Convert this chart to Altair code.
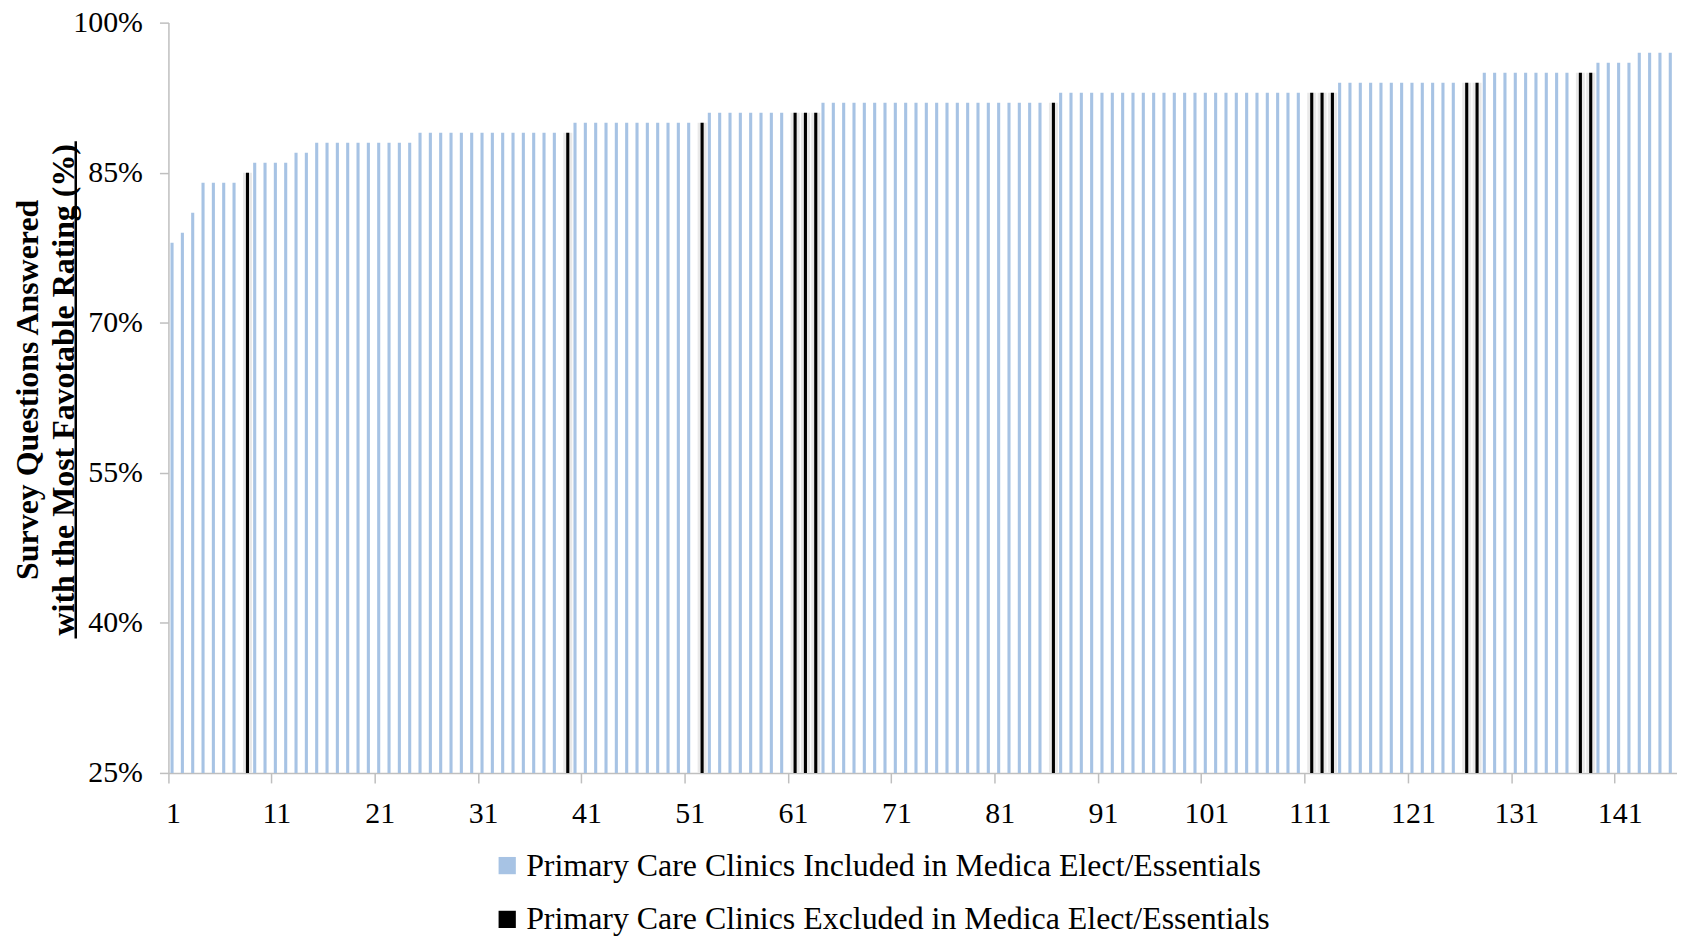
import altair as alt
import pandas as pd

# Clinic rank (1..146) and share of survey questions answered with most favorable rating (%)
rating_pct = [
    78, 79, 81, 84, 84, 84, 84, 85, 86, 86,
    86, 86, 87, 87, 88, 88, 88, 88, 88, 88,
    88, 88, 88, 88, 89, 89, 89, 89, 89, 89,
    89, 89, 89, 89, 89, 89, 89, 89, 89, 90,
    90, 90, 90, 90, 90, 90, 90, 90, 90, 90,
    90, 90, 91, 91, 91, 91, 91, 91, 91, 91,
    91, 91, 91, 92, 92, 92, 92, 92, 92, 92,
    92, 92, 92, 92, 92, 92, 92, 92, 92, 92,
    92, 92, 92, 92, 92, 92, 93, 93, 93, 93,
    93, 93, 93, 93, 93, 93, 93, 93, 93, 93,
    93, 93, 93, 93, 93, 93, 93, 93, 93, 93,
    93, 93, 93, 94, 94, 94, 94, 94, 94, 94,
    94, 94, 94, 94, 94, 94, 94, 95, 95, 95,
    95, 95, 95, 95, 95, 95, 95, 95, 96, 96,
    96, 96, 97, 97, 97, 97,
]
excluded_clinics = [8, 39, 52, 61, 62, 63, 86, 111, 112, 113, 126, 127, 137, 138]
x_tick_values = [1, 11, 21, 31, 41, 51, 61, 71, 81, 91, 101, 111, 121, 131, 141]
y_tick_values = [25, 40, 55, 70, 85, 100]

label_in = "Primary Care Clinics Included in Medica Elect/Essentials"
label_out = "Primary Care Clinics Excluded in Medica Elect/Essentials"
groups = [label_in, label_out]

clinic = list(range(1, len(rating_pct) + 1))
df = pd.DataFrame({
    "clinic": clinic,
    "rating": rating_pct,
    "group": [label_out if c in excluded_clinics else label_in for c in clinic],
})

FONT = "Liberation Serif"
AXIS_GREY = "#BFBFBF"

x_enc = alt.X(
    "clinic:O",
    scale=alt.Scale(paddingInner=0, paddingOuter=0),
    axis=alt.Axis(
        values=x_tick_values, labelAngle=0, title=None,
        labelFont=FONT, labelFontSize=30, labelColor="black",
        domainColor=AXIS_GREY, domainWidth=1.5,
        tickColor=AXIS_GREY, tickWidth=1.5, tickSize=10,
        bandPosition=0, labelPadding=16,
        grid=False,
    ),
)
xoff_enc = alt.XOffset(
    "group:N",
    scale=alt.Scale(domain=groups, paddingInner=0, paddingOuter=0.67),
)
y_enc = alt.Y(
    "rating:Q",
    scale=alt.Scale(domain=[25, 100], nice=False, zero=False),
    axis=alt.Axis(
        values=y_tick_values, labelExpr="datum.value + '%'",
        labelFont=FONT, labelFontSize=30, labelColor="black",
        labelPadding=17,
        domainColor=AXIS_GREY, domainWidth=1.5,
        tickColor=AXIS_GREY, tickWidth=1.5, tickSize=9,
        grid=False,
        title=["Survey Questions Answered", "with the Most Favotable Rating (%)"],
        titleFont=FONT, titleFontSize=32, titleFontWeight="bold",
        titleColor="black", titleLineHeight=36,
        titleAngle=-90, titleAlign="center", titleBaseline="bottom",
        titleX=-124, titleY=368,
    ),
)

shadow = alt.Chart(df).transform_filter(
    alt.datum.group == label_out
).mark_bar(clip=True, color="#E9E9E9", width=9, xOffset=1.5).encode(
    x=x_enc, xOffset=xoff_enc, y=y_enc
)

bars = alt.Chart(df).mark_bar(clip=True).encode(
    x=x_enc,
    xOffset=xoff_enc,
    y=y_enc,
    color=alt.Color(
        "group:N",
        scale=alt.Scale(domain=groups, range=["#A7C3E4", "#000000"]),
        legend=alt.Legend(
            title=None, orient="none", legendX=324, legendY=830,
            direction="vertical", symbolType="square", symbolSize=300,
            symbolStrokeWidth=0, labelFont=FONT, labelFontSize=32,
            labelColor="black", labelOffset=3, rowPadding=22, padding=0,
            labelLimit=1200,
        ),
    ),
)

underline = alt.Chart(df).transform_filter(alt.datum.clinic == 1).mark_rule(
    color="black", strokeWidth=2.5
).encode(x=alt.value(-93), y=alt.value(119), y2=alt.value(618))

chart = alt.layer(shadow, bars, underline).properties(
    width=1514, height=753,
    autosize=alt.AutoSizeParams(type="none"),
    padding={"left": 161, "top": 13, "right": 0, "bottom": 166},
    background="white",
).configure_view(stroke=None)

chart.save("out.html", embed_options={"renderer": "svg", "actions": False})
